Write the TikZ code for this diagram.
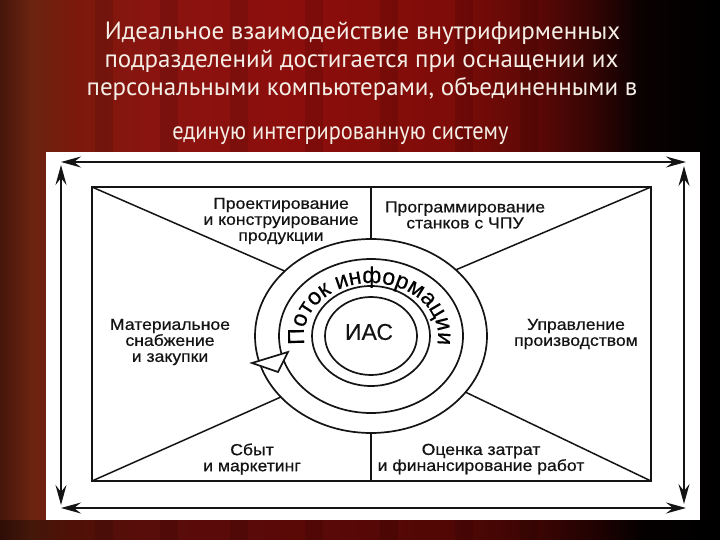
\documentclass[tikz,border=0pt]{standalone}
\usepackage{fontspec}
\setmainfont{Liberation Sans}
\newfontfamily\titlefont{PT Sans}
\newfontfamily\diagfont[FakeStretch=1.1,FakeBold=0.6]{Liberation Sans}
\newfontfamily\ringfont[FakeBold=0.4]{Liberation Sans}
\usetikzlibrary{arrows.meta,decorations.text,calc}
\definecolor{ink}{HTML}{141414}
\definecolor{bgA}{HTML}{45150A}
\definecolor{bgB}{HTML}{6A2410}
\definecolor{bgC}{HTML}{7A1A0C}
\definecolor{bgD}{HTML}{8A1410}
\definecolor{bgE}{HTML}{8C0E0C}
\definecolor{bgF}{HTML}{7E0C08}
\definecolor{bgG}{HTML}{5A0806}
\definecolor{bgH}{HTML}{2E0403}
\definecolor{bgI}{HTML}{0A0101}
\definecolor{bgJ}{HTML}{000000}
\definecolor{titlecol}{HTML}{F4EEE6}
\newcommand\arcfont{\ringfont\fontsize{23}{23}\selectfont}
\begin{document}
\begin{tikzpicture}[x=1pt,y=-1pt,
  tip/.tip={Stealth[length=20pt,width=11pt,inset=7pt]},
  framearrow/.style={line width=1.8pt, draw=ink, tip-tip},
  box/.style={line width=1.8pt, draw=ink},
  ring/.style={line width=1.7pt, draw=ink},
  edge/.style={line width=1.5pt, draw=ink},
  lbl/.style={font=\diagfont\fontsize{16}{16}\selectfont, text=ink, align=center, inner sep=0pt},
  title/.style={font=\titlefont\fontsize{25}{25}\selectfont, text=titlecol, inner sep=0pt, anchor=base}
]
\useasboundingbox (0,0) rectangle (720,540);
% background curtain
\foreach \xa/\xb/\ca/\cb in {0/30/bgA/bgB, 30/70/bgB/bgC, 70/150/bgC/bgD, 150/300/bgD/bgE, 300/450/bgE/bgF, 450/540/bgF/bgG, 540/600/bgG/bgH, 600/640/bgH/bgI, 640/720/bgI/bgJ}
  \shade[left color=\ca, right color=\cb] (\xa-0.5,-1) rectangle (\xb+0.5,541);
\foreach \xs in {95,160,230,305,380,455,520}
  \fill[black, opacity=0.10] (\xs,0) rectangle (\xs+18,540);
\fill[black, opacity=0.35] (0,520) rectangle (720,540);
% title
\node[title] (t1) at (362.5,40) {Идеальное взаимодействие внутрифирменных};
\node[title] (t2) at (361.5,68) {подразделений достигается при оснащении их};
\node[title] (t3) at (362,96) {персональными компьютерами, объединенными в};
\node[title] (t4) at (340.5,140) {\scalebox{0.894}[1]{единую интегрированную систему}};
% panel
\fill[white] (46,152) rectangle (700,520);
% frame arrows
\coordinate (fTL) at (61,162);
\coordinate (fTR) at (686,162);
\coordinate (fLT) at (61,165);
\coordinate (fLB) at (61,505);
\coordinate (fBL) at (61,508);
\coordinate (fBR) at (686,508);
\coordinate (fRT) at (684,166);
\coordinate (fRB) at (684,504);
\draw[framearrow] (fTL) -- (fTR);
\draw[framearrow] (fLT) -- (fLB);
\draw[framearrow] (fBL) -- (fBR);
\draw[framearrow] (fRT) -- (fRB);
% inner rectangle
\coordinate (rTL) at (92,187);
\coordinate (rTR) at (651,187);
\coordinate (rBR) at (651,481);
\coordinate (rBL) at (92,481);
\draw[box] (rTL) -- (rTR) -- (rBR) -- (rBL) -- cycle;
% circles
\coordinate (C) at (371,336);
\draw[ring] (C) ellipse [x radius=116, y radius=97];
\draw[ring] (C) ellipse [x radius=92, y radius=77];
\draw[ring] (C) ellipse [x radius=59, y radius=50];
\draw[ring] (C) ellipse [x radius=46, y radius=39];
% dividers
\coordinate (eTL) at ($(C)+(222:116 and 97)$);
\coordinate (eTR) at ($(C)+(317:116 and 97)$);
\coordinate (eBL) at ($(C)+(141:116 and 97)$);
\coordinate (eBR) at ($(C)+(35.4:116 and 97)$);
\coordinate (eT) at ($(C)+(270:116 and 97)$);
\coordinate (eB) at ($(C)+(90:116 and 97)$);
\coordinate (rT) at (371,187);
\coordinate (rB) at (371,481);
\draw[edge] (rTL) -- (eTL);
\draw[edge] (rTR) -- (eTR);
\draw[edge] (rBL) -- (eBL);
\draw[edge] (rBR) -- (eBR);
\draw[edge] (rT) -- (eT);
\draw[edge] (rB) -- (eB);
% arrow head of the flow
\coordinate (aT) at (252,363);
\coordinate (aU) at (288,352);
\coordinate (aL) at (278,372);
\draw[ring, fill=white, line join=miter] (aT) -- (aU) -- (aL) -- cycle;
% flow text
{\arcfont
\path[decorate, decoration={text along path, text align=center,
   text={Поток информации}}]
   ($(C)+(150:67 and 53)$) arc[start angle=150, end angle=390, x radius=67, y radius=53];
}
% labels
\node[lbl] (proj) at (281,221) {Проектирование\\и конструирование\\продукции};
\node[lbl] (prog) at (465,215) {Программирование\\станков с ЧПУ};
\node[lbl] (mat) at (170,342) {Материальное\\снабжение\\и закупки};
\node[lbl] (upr) at (576,334) {Управление\\производством};
\node[lbl] (sbyt) at (252,459) {Сбыт\\и маркетинг};
\node[lbl] (ocen) at (481,459) {Оценка затрат\\и финансирование работ};
\node[font=\ringfont\fontsize{23}{23}\selectfont, text=ink, inner sep=0pt] (ias) at (369,332) {ИАС};
\end{tikzpicture}
\end{document}
